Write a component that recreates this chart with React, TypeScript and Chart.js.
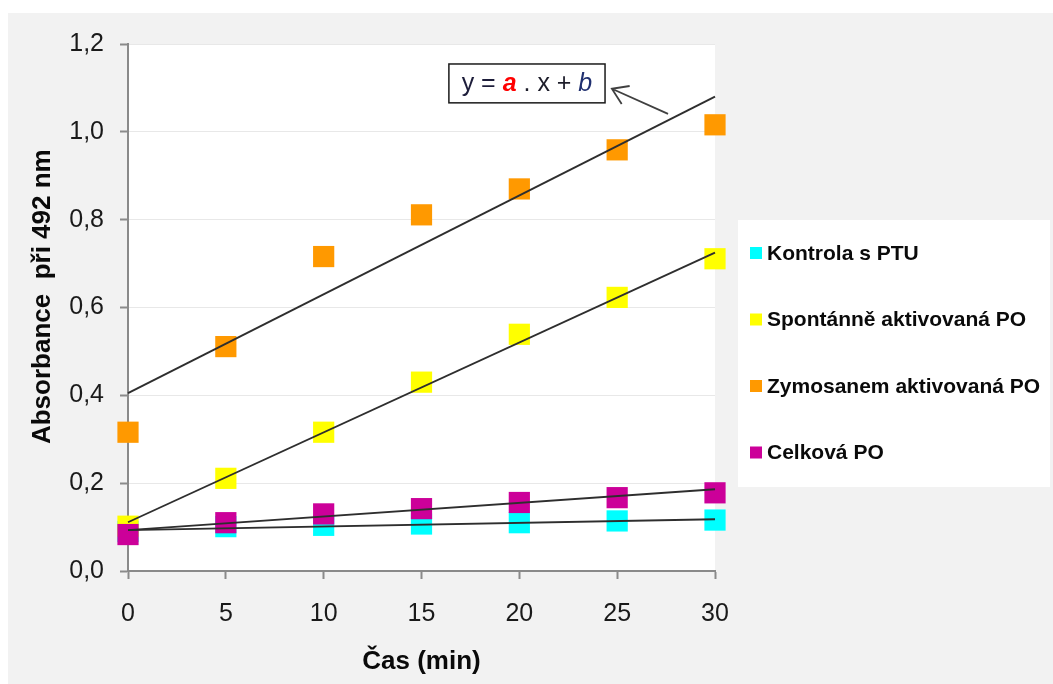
import React, { useEffect, useRef } from 'react';
import { Chart, registerables } from 'chart.js';

Chart.register(...registerables);

// ---- data ----
const timeMin = [0, 5, 10, 15, 20, 25, 30];
const kontrola = [0.09, 0.101, 0.104, 0.107, 0.11, 0.114, 0.116];
const spontanne = [0.102, 0.211, 0.316, 0.43, 0.539, 0.623, 0.711];
const zymosan = [0.316, 0.511, 0.716, 0.811, 0.87, 0.959, 1.016];
const celkova = [0.083, 0.11, 0.13, 0.142, 0.156, 0.167, 0.178];

// trendline end values (at x = 0 and x = 30)
const trendX = [0, 30];
const kontrolaTrend = [0.093, 0.118];
const spontanneTrend = [0.111, 0.725];
const zymosanTrend = [0.405, 1.08];
const celkovaTrend = [0.093, 0.186];

const seriesLabels = ['Kontrola s PTU', 'Spontánně aktivovaná PO', 'Zymosanem aktivovaná PO', 'Celková PO'];
const seriesColors = ['#00ffff', '#ffff00', '#ff9900', '#cc0099'];

const xAxisTitle = 'Čas (min)';
const yAxisTitle = '   Absorbance  při 492 nm';

// annotation placement in data units
const eqBoxX = [16.4, 24.38];
const eqBoxY = [1.1545, 1.066];
const arrowFrom = [27.6, 1.041];
const arrowTo = [24.73, 1.098];

const FONT = "'Liberation Sans', Arial, sans-serif";

const pts = (vals: number[]) => vals.map((v, i) => ({ x: timeMin[i], y: v }));
const trend = (vals: number[]) => vals.map((v, i) => ({ x: trendX[i], y: v }));

const bgPlugin = {
  id: 'bgPlugin',
  beforeDraw(chart: any) {
    const { ctx, chartArea } = chart;
    ctx.save();
    ctx.fillStyle = '#ffffff';
    ctx.fillRect(chartArea.left, chartArea.top, chartArea.right - chartArea.left, chartArea.bottom - chartArea.top);
    ctx.restore();
  },
};

const legendPlugin = {
  id: 'customLegend',
  afterDraw(chart: any) {
    const { ctx, chartArea } = chart;
    const boxLeft = chartArea.right + 23;
    const boxTop = 207;
    ctx.save();
    ctx.fillStyle = '#ffffff';
    ctx.fillRect(boxLeft, boxTop, 312, 267);
    ctx.font = `bold 21px ${FONT}`;
    ctx.textBaseline = 'middle';
    ctx.textAlign = 'left';
    seriesLabels.forEach((label, i) => {
      const cy = boxTop + 33 + i * 66.5;
      ctx.fillStyle = seriesColors[i];
      ctx.fillRect(boxLeft + 12, cy - 6, 12, 12);
      ctx.fillStyle = '#0a0a0a';
      ctx.fillText(label, boxLeft + 29, cy + 1);
    });
    ctx.restore();
  },
};

const eqPlugin = {
  id: 'eqPlugin',
  afterDatasetsDraw(chart: any) {
    const { ctx, scales } = chart;
    const x = scales.x;
    const y = scales.y;
    const l = x.getPixelForValue(eqBoxX[0]);
    const r = x.getPixelForValue(eqBoxX[1]);
    const t = y.getPixelForValue(eqBoxY[0]);
    const b = y.getPixelForValue(eqBoxY[1]);
    ctx.save();
    ctx.fillStyle = '#ffffff';
    ctx.fillRect(l, t, r - l, b - t);
    ctx.strokeStyle = '#1a1a1a';
    ctx.lineWidth = 1.5;
    ctx.strokeRect(l, t, r - l, b - t);

    const segs: [string, string, string][] = [
      ['y = ', `25px ${FONT}`, '#1d1d3a'],
      ['a', `italic bold 25px ${FONT}`, '#ff0000'],
      [' . x + ', `25px ${FONT}`, '#1d1d2a'],
      ['b', `italic 25px ${FONT}`, '#1f2f6f'],
    ];
    let total = 0;
    segs.forEach(([s, f]) => {
      ctx.font = f;
      total += ctx.measureText(s).width;
    });
    let cx = (l + r) / 2 - total / 2;
    const cy = (t + b) / 2 + 1;
    ctx.textBaseline = 'middle';
    ctx.textAlign = 'left';
    segs.forEach(([s, f, c]) => {
      ctx.font = f;
      ctx.fillStyle = c;
      ctx.fillText(s, cx, cy);
      cx += ctx.measureText(s).width;
    });

    // arrow
    const x1 = x.getPixelForValue(arrowFrom[0]);
    const y1 = y.getPixelForValue(arrowFrom[1]);
    const x2 = x.getPixelForValue(arrowTo[0]);
    const y2 = y.getPixelForValue(arrowTo[1]);
    ctx.strokeStyle = '#404040';
    ctx.lineWidth = 1.8;
    ctx.beginPath();
    ctx.moveTo(x1, y1);
    ctx.lineTo(x2, y2);
    const ang = Math.atan2(y1 - y2, x1 - x2);
    const len = 18;
    const spread = (33 * Math.PI) / 180;
    ctx.moveTo(x2 + len * Math.cos(ang - spread), y2 + len * Math.sin(ang - spread));
    ctx.lineTo(x2, y2);
    ctx.lineTo(x2 + len * Math.cos(ang + spread), y2 + len * Math.sin(ang + spread));
    ctx.stroke();
    ctx.restore();
  },
};

export default function App() {
  const ref = useRef<HTMLCanvasElement | null>(null);

  useEffect(() => {
    if (!ref.current) return;
    const pointDs = (label: string, vals: number[], color: string, order: number) => ({
      label,
      data: pts(vals),
      backgroundColor: color,
      borderColor: color,
      borderWidth: 0,
      pointStyle: 'rect',
      pointRadius: 15,
      pointHoverRadius: 15,
      showLine: false,
      clip: false,
      order,
    });
    const trendDs = (label: string, vals: number[]) => ({
      label,
      data: trend(vals),
      showLine: true,
      borderColor: '#2e2e2e',
      borderWidth: 1.9,
      pointRadius: 0,
      pointHoverRadius: 0,
      fill: false,
      clip: false,
      order: 0,
    });

    const chart = new Chart(ref.current, {
      type: 'scatter',
      data: {
        datasets: [
          pointDs(seriesLabels[0], kontrola, seriesColors[0], 4),
          pointDs(seriesLabels[1], spontanne, seriesColors[1], 3),
          pointDs(seriesLabels[2], zymosan, seriesColors[2], 2),
          pointDs(seriesLabels[3], celkova, seriesColors[3], 1),
          trendDs('trend ' + seriesLabels[0], kontrolaTrend),
          trendDs('trend ' + seriesLabels[1], spontanneTrend),
          trendDs('trend ' + seriesLabels[2], zymosanTrend),
          trendDs('trend ' + seriesLabels[3], celkovaTrend),
        ] as any,
      },
      options: {
        animation: false,
        responsive: false,
        layout: { padding: { top: 30, right: 338, bottom: 0, left: 0 } },
        plugins: {
          legend: { display: false },
          tooltip: { enabled: false },
        },
        scales: {
          x: {
            type: 'linear',
            min: 0,
            max: 30,
            afterFit: (s: any) => {
              s.height = 113;
            },
            ticks: {
              stepSize: 5,
              padding: 20,
              color: '#1a1a1a',
              font: { family: FONT, size: 25 },
            },
            grid: {
              drawOnChartArea: false,
              drawTicks: true,
              tickLength: 8,
              tickColor: '#8a8a8a',
              tickWidth: 2,
            },
            border: { color: '#8a8a8a', width: 2 },
            title: {
              display: true,
              text: xAxisTitle,
              color: '#0a0a0a',
              font: { family: FONT, size: 26, weight: 'bold' },
              padding: { top: 0, bottom: 7 },
            },
          },
          y: {
            type: 'linear',
            min: 0,
            max: 1.2,
            afterFit: (s: any) => {
              s.width = 120;
            },
            ticks: {
              stepSize: 0.2,
              padding: 16,
              color: '#1a1a1a',
              font: { family: FONT, size: 25 },
              callback: (v: any) => Number(v).toFixed(1).replace('.', ','),
            },
            grid: {
              color: '#e8e8e8',
              lineWidth: 1,
              tickLength: 8,
              tickColor: '#8a8a8a',
              tickWidth: 2,
            },
            border: { color: '#8a8a8a', width: 2 },
            title: {
              display: true,
              text: yAxisTitle,
              color: '#0a0a0a',
              font: { family: FONT, size: 26, weight: 'bold' },
              padding: { top: 19, bottom: 0 },
            },
          },
        },
      } as any,
      plugins: [bgPlugin, legendPlugin, eqPlugin],
    });
    return () => chart.destroy();
  }, []);

  return (
    <div
      style={{
        position: 'fixed',
        left: 8,
        top: 13,
        width: 1045,
        height: 671,
        background: '#f2f2f2',
      }}
    >
      <canvas ref={ref} width={1045} height={671} style={{ display: 'block' }} />
    </div>
  );
}
